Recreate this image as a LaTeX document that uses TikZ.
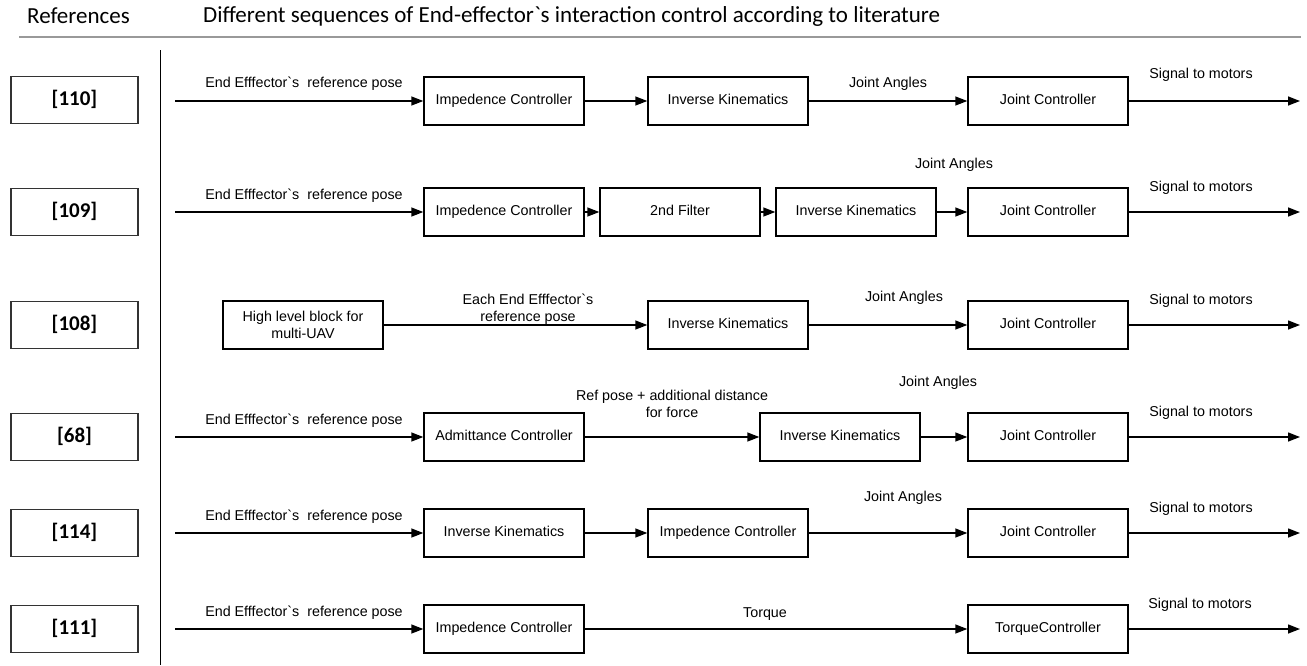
\documentclass[tikz,border=0pt]{standalone}
\usepackage{fontspec}
\newfontfamily\libfont{Liberation Sans}
\newfontfamily\calfont{Carlito}
\usetikzlibrary{arrows.meta}
\begin{document}
\begin{tikzpicture}[x=1pt,y=-1pt,
  fbox/.style={draw,line width=1.4pt,minimum width=160pt,minimum height=48pt,inner sep=0pt,align=center,font=\libfont\fontsize{14.3}{17}\selectfont},
  onel/.style={text height=10.2pt,text depth=3pt},
  refbox/.style={draw,line width=1.4pt,draw=black!80,minimum width=127pt,minimum height=47pt,inner sep=0pt,text height=14pt,text depth=4pt,font=\calfont\bfseries\fontsize{21}{24}\selectfont},
  lbl/.style={font=\libfont\fontsize{14.3}{17}\selectfont,inner sep=0pt,align=center},
  flow/.style={line width=1.4pt,-{Triangle[length=12pt,width=9pt]}},
  hdr/.style={font=\calfont\fontsize{23}{27}\selectfont,anchor=west,inner sep=0pt}
]
\useasboundingbox (0,0) rectangle (1307,665);
% header
\node[hdr] (h1) at (27,16) {References};
\node[hdr] (h2) at (203,16) {Different sequences of End-effector\textasciigrave s interaction control according to literature};
\coordinate (gl1) at (19,37);
\coordinate (gl2) at (1301,37);
\draw[black!40,line width=1.2pt] (gl1) -- (gl2);
\coordinate (vl1) at (160.5,50);
\coordinate (vl2) at (160.5,665);
\draw[line width=1.2pt] (vl1) -- (vl2);
% reference boxes
\node[refbox] (r110) at (74.5,100) {[110]};
\node[refbox] (r109) at (74.5,212) {[109]};
\node[refbox] (r108) at (74.5,325) {[108]};
\node[refbox] (r68)  at (74.5,437) {[68]};
\node[refbox] (r114) at (74.5,533) {[114]};
\node[refbox] (r111) at (74.5,629) {[111]};
% row 1
\coordinate (s1) at (175,101);
\node[fbox,onel] (a1) at (504,101) {Impedence Controller};
\node[fbox,onel] (b1) at (728,101) {Inverse Kinematics};
\node[fbox,onel] (c1) at (1048,101) {Joint Controller};
\coordinate (e1) at (1300,101);
\draw[flow] (s1) -- (a1);
\draw[flow] (a1) -- (b1);
\draw[flow] (b1) -- (c1);
\draw[flow] (c1) -- (e1);
\node[lbl] (l1a) at (304,84) {End Efffector\textasciigrave s\ \ reference pose};
\node[lbl] (l1b) at (888,84) {Joint Angles};
\node[lbl] (l1c) at (1201,75) {Signal to motors};
% row 2
\coordinate (s2) at (175,212);
\node[fbox,onel] (a2) at (504,212) {Impedence Controller};
\node[fbox,onel] (f2) at (680,212) {2nd Filter};
\node[fbox,onel] (b2) at (856,212) {Inverse Kinematics};
\node[fbox,onel] (c2) at (1048,212) {Joint Controller};
\coordinate (e2) at (1300,212);
\draw[flow] (s2) -- (a2);
\draw[flow] (a2) -- (f2);
\draw[flow] (f2) -- (b2);
\draw[flow] (b2) -- (c2);
\draw[flow] (c2) -- (e2);
\node[lbl] (l2a) at (304,196) {End Efffector\textasciigrave s\ \ reference pose};
\node[lbl] (l2b) at (954,165) {Joint Angles};
\node[lbl] (l2c) at (1201,188) {Signal to motors};
% row 3
\node[fbox] (h3) at (303,325) {High level block for\\multi-UAV};
\node[fbox,onel] (b3) at (728,325) {Inverse Kinematics};
\node[fbox,onel] (c3) at (1048,325) {Joint Controller};
\coordinate (e3) at (1300,325);
\draw[flow] (h3) -- (b3);
\draw[flow] (b3) -- (c3);
\draw[flow] (c3) -- (e3);
\node[lbl] (l3a) at (528,309) {Each End Efffector\textasciigrave s\\reference pose};
\node[lbl] (l3b) at (904,298) {Joint Angles};
\node[lbl] (l3c) at (1201,301) {Signal to motors};
% row 4
\coordinate (s4) at (175,437);
\node[fbox,onel] (a4) at (504,437) {Admittance Controller};
\node[fbox,onel] (b4) at (840,437) {Inverse Kinematics};
\node[fbox,onel] (c4) at (1048,437) {Joint Controller};
\coordinate (e4) at (1300,437);
\draw[flow] (s4) -- (a4);
\draw[flow] (a4) -- (b4);
\draw[flow] (b4) -- (c4);
\draw[flow] (c4) -- (e4);
\node[lbl] (l4a) at (304,421) {End Efffector\textasciigrave s\ \ reference pose};
\node[lbl] (l4m) at (672,404) {Ref pose + additional distance\\for force};
\node[lbl] (l4b) at (938,383) {Joint Angles};
\node[lbl] (l4c) at (1201,413) {Signal to motors};
% row 5
\coordinate (s5) at (175,533);
\node[fbox,onel] (a5) at (504,533) {Inverse Kinematics};
\node[fbox,onel] (b5) at (728,533) {Impedence Controller};
\node[fbox,onel] (c5) at (1048,533) {Joint Controller};
\coordinate (e5) at (1300,533);
\draw[flow] (s5) -- (a5);
\draw[flow] (a5) -- (b5);
\draw[flow] (b5) -- (c5);
\draw[flow] (c5) -- (e5);
\node[lbl] (l5a) at (304,517) {End Efffector\textasciigrave s\ \ reference pose};
\node[lbl] (l5b) at (903,498) {Joint Angles};
\node[lbl] (l5c) at (1201,509) {Signal to motors};
% row 6
\coordinate (s6) at (175,629);
\node[fbox,onel] (a6) at (504,629) {Impedence Controller};
\node[fbox,onel] (c6) at (1048,629) {TorqueController};
\coordinate (e6) at (1300,629);
\draw[flow] (s6) -- (a6);
\draw[flow] (a6) -- (c6);
\draw[flow] (c6) -- (e6);
\node[lbl] (l6a) at (304,613) {End Efffector\textasciigrave s\ \ reference pose};
\node[lbl] (l6b) at (765,614) {Torque};
\node[lbl] (l6c) at (1200,605) {Signal to motors};
\end{tikzpicture}
\end{document}
